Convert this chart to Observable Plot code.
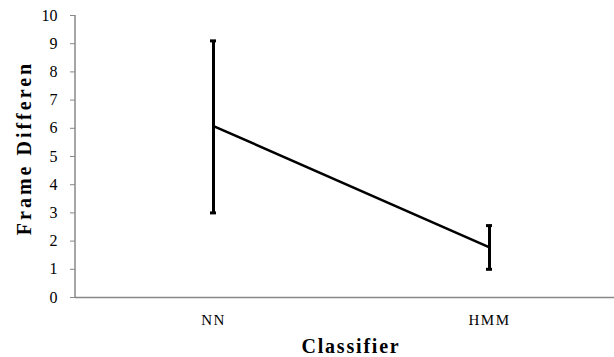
<!DOCTYPE html>
<html><head><meta charset="utf-8">
<script src="https://cdn.jsdelivr.net/npm/d3@7"></script>
<script src="https://cdn.jsdelivr.net/npm/@observablehq/plot@0.6"></script>
<style>
body{margin:0;background:#fff;}
</style>
</head><body><div id="chart"></div>
<script>
const classifiers = ["NN", "HMM"];
const means = [6.08, 1.78];
const lows = [3.0, 1.0];
const highs = [9.1, 2.55];
const yTicks = [0,1,2,3,4,5,6,7,8,9,10];

const data = classifiers.map((c,i)=>({c, m:means[i], lo:lows[i], hi:highs[i]}));
const serif = '"Liberation Serif","Times New Roman",serif';

const plot = Plot.plot({
  width: 614, height: 357,
  marginLeft: 75, marginRight: 2, marginTop: 15, marginBottom: 60,
  style: {fontFamily: serif, background: "#fff"},
  x: {type: "point", domain: classifiers, padding: 0.47, align: 0.53, label: null},
  y: {domain: [0, 10], label: null},
  marks: [
    Plot.ruleY([0], {stroke: "#888", strokeWidth: 1.5, insetRight: -2}),
    Plot.axisY({ticks: yTicks, tickSize: 5, tickPadding: 13, stroke: "#888", fontSize: 16, fill: "#000", label: null, tickFormat: d => d}),
    Plot.axisX({tickSize: 0, tickPadding: 17, fontSize: 15, fill: "#000", label: null}),
    Plot.line(data, {x: "c", y: "m", stroke: "#000", strokeWidth: 2.5}),
    Plot.ruleX(data, {x: "c", y1: "lo", y2: "hi", stroke: "#000", strokeWidth: 3}),
    Plot.ruleY(data, {x1: "c", x2: "c", y: "lo", stroke: "#000", strokeWidth: 3, insetLeft: -3, insetRight: -3}),
    Plot.ruleY(data, {x1: "c", x2: "c", y: "hi", stroke: "#000", strokeWidth: 3, insetLeft: -3, insetRight: -3})
  ]
});
document.getElementById("chart").appendChild(plot);

const svg = d3.select(plot);
svg.selectAll("text").style("font-family", serif);
svg.selectAll("g[aria-label*='y-axis'] text").style("font-size", "16px");
svg.selectAll("g[aria-label*='x-axis'] text").style("font-size", "15px").attr("letter-spacing", 1.5);
const yScale = plot.scale("y");
svg.append("line")
  .attr("x1", 75).attr("x2", 75)
  .attr("y1", yScale.apply(0)).attr("y2", yScale.apply(10))
  .attr("stroke", "#888").attr("stroke-width", 1.5);
svg.append("text")
  .attr("transform", `translate(31,148) rotate(-90)`)
  .attr("text-anchor", "middle")
  .style("font-family", serif).style("font-size", "20px").attr("font-weight", "bold").attr("letter-spacing", 3)
  .attr("fill", "#000")
  .text("Frame Differen");
svg.append("text")
  .attr("x", 351).attr("y", 353)
  .attr("text-anchor", "middle")
  .style("font-family", serif).style("font-size", "20px").attr("font-weight", "bold").attr("letter-spacing", 1.8)
  .attr("fill", "#000")
  .text("Classifier");
</script>
</body></html>
